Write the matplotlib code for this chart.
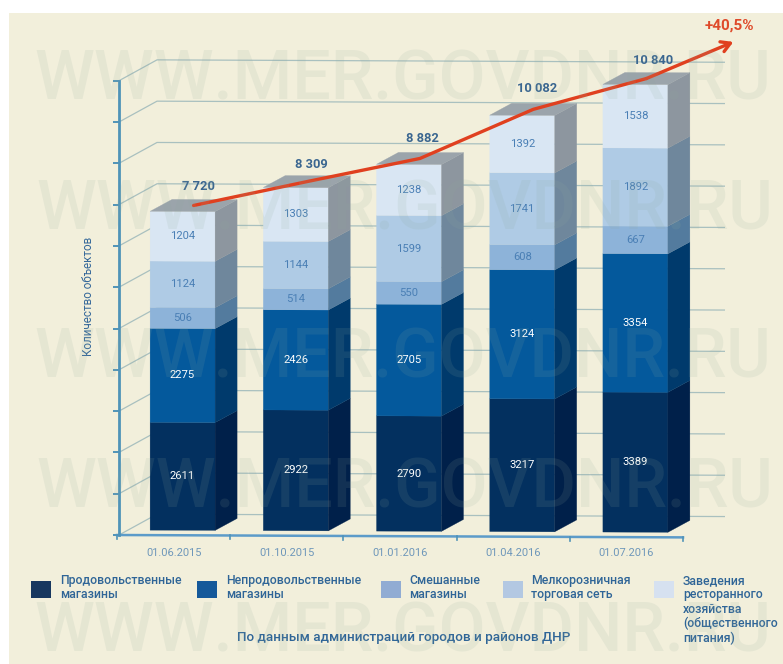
import matplotlib
matplotlib.use("Agg")
import matplotlib.pyplot as plt
from matplotlib.patches import Polygon, Rectangle
from matplotlib.transforms import Affine2D

plt.rcParams['font.family'] = ['Roboto', 'DejaVu Sans']

# --- data ---
dates = ['01.06.2015', '01.10.2015', '01.01.2016', '01.04.2016', '01.07.2016']
food = [2611, 2922, 2790, 3217, 3389]
nonfood = [2275, 2426, 2705, 3124, 3354]
mixed = [506, 514, 550, 608, 667]
retail = [1124, 1144, 1599, 1741, 1892]
catering = [1204, 1303, 1238, 1392, 1538]
totals = [7720, 8309, 8882, 10082, 10840]
total_labels = ['7 720', '8 309', '8 882', '10 082', '10 840']
series = [food, nonfood, mixed, retail, catering]
legend_labels = ['Продовольственные\nмагазины', 'Непродовольственные\nмагазины',
                 'Смешанные\nмагазины', 'Мелкорозничная\nторговая сеть',
                 'Заведения\nресторанного\nхозяйства\n(общественного\nпитания)']
y_ticks = list(range(0, 12000, 1000))

# --- styles ---
W, H = 783, 664
BG = '#F2EFDB'
front_colors = ['#03305F', '#04599C', '#8DB3D9', '#AFCBE5', '#D9E6F3']
side_colors = ['#00204A', '#003A6C', '#537B9E', '#6F879C', '#8D969F']
top_color = '#9BA4AB'
legend_colors = ['#17375F', '#15599A', '#91ACD3', '#B3C8E2', '#D6E1F0']
text_blue = '#2F6597'
label_blue = '#4A7FB5'
grid_color = '#A9C0BF'
axis_color = '#4F93B8'
red = '#E0401F'

# pixel geometry of the plot frame
x_left, x_right = 117, 683
y_base, y_top = 535, 80.7
px_x = (x_right - x_left) / 5      # pixels per category
px_y = (y_base - y_top) / 11000    # pixels per object
sx = lambda p: p / px_x            # pixels -> x data units
sy = lambda p: p / px_y            # pixels -> y data units

fig = plt.figure(figsize=(W / 100, H / 100), dpi=100, facecolor='white')
fig.patches.append(Rectangle((9 / W, 0), (W - 9) / W, (H - 13) / H, transform=fig.transFigure,
                             facecolor=BG, edgecolor='none', zorder=-5))

ax = fig.add_axes([x_left / W, 1 - y_base / H, (x_right - x_left) / W, (y_base - y_top) / H])
ax.patch.set_visible(False)
ax.set_xlim(-0.5, 4.5)
ax.set_ylim(0, 11000)

# the whole drawing leans slightly downwards to the right
lean = 0.0042
T = ax.transData + Affine2D.from_values(1, -lean, 0, 1, 0, lean * x_left)


def poly(points, color, z):
    ax.add_patch(Polygon(points, closed=True, facecolor=color, edgecolor=color, linewidth=0.2,
                         transform=T, clip_on=False, zorder=z))


# back wall grid with its diagonal floor/wall edge
wall_dx, wall_dy = sx(40), sy(21)
wall_end = -0.5 + sx(725 - x_left)
for v in y_ticks:
    ax.plot([-0.5 + sx(2), -0.5 + wall_dx, wall_end], [v, v + wall_dy, v + wall_dy], color=grid_color,
            lw=0.9, transform=T, clip_on=False, zorder=1, solid_capstyle='butt')

# axes lines and tick marks
ax.set_xticks(range(5))
ax.set_xticklabels(dates, fontsize=7.9, color='#6E97BA')
ax.set_yticks(y_ticks)
ax.set_yticklabels([])
ax.tick_params(axis='x', length=0, pad=9)
ax.tick_params(axis='y', length=4, width=1.4, color=axis_color)
for name in ['top', 'right', 'bottom']:
    ax.spines[name].set_visible(False)
ax.spines['left'].set_position(('outward', -1.4))
ax.spines['left'].set_color(axis_color)
ax.spines['left'].set_linewidth(2)
ax.plot([-0.5, 4.5], [0, 0], color='#5C9BC9', lw=1.8, transform=T, clip_on=False, zorder=2)
for b in [i - 0.5 for i in range(6)]:
    ax.plot([b, b], [0, -sy(4)], color=axis_color, lw=1.2, transform=T, clip_on=False, zorder=2)

ax.set_ylabel('Количество объектов', fontsize=8.4, color='#35689A', labelpad=10, y=0.525)

# stacked 3D columns
off_x, off_y = sx(9), sy(5)        # columns stand a little back on the floor
bw = sx(65)
dx, dy = sx(22), sy(12)
margin = (px_x - 65) / 2 / px_x
for i in range(5):
    left = i - 0.5 + margin + off_x
    right = left + bw
    base = off_y
    for k, values in enumerate(series):
        v = values[i]
        top = base + v
        poly([(left, base), (right, base), (right, top), (left, top)], front_colors[k], 5 + i)
        poly([(right, base), (right + dx, base + dy), (right + dx, top + dy), (right, top)],
             side_colors[k], 5 + i)
        ax.text((left + right) / 2, (base + top) / 2, str(v), ha='center', va='center', fontsize=8.1,
                color='white' if k < 2 else label_blue, transform=T, zorder=30)
        base = top
    poly([(left, base), (right, base), (right + dx, base + dy), (left + dx, base + dy)], top_color, 5 + i)

# growth line through the centre of each column top
knots_x = [i - 0.5 + margin + off_x + bw / 2 + dx / 2 for i in range(5)]
knots_y = [t + off_y + dy / 2 for t in totals]
ax.plot(knots_x, knots_y, color=red, lw=2.4, transform=T, clip_on=False, zorder=12, solid_capstyle='round')
arrow_tip = (knots_x[-1] + sx(87), knots_y[-1] + sy(37))
ax.annotate('', xy=arrow_tip, xytext=(knots_x[-1], knots_y[-1]), xycoords=T, textcoords=T, zorder=12,
            arrowprops=dict(arrowstyle='->,head_length=0.65,head_width=0.38', color=red, lw=2.4,
                            shrinkA=0, shrinkB=0))

overlay = fig.add_axes([0, 0, 1, 1])
overlay.set_xlim(0, W)
overlay.set_ylim(H, 0)
overlay.axis('off')

# totals above columns
total_pos = [(198, 186), (311, 164), (422, 138), (537, 89), (653, 60)]
for (x, y), s in zip(total_pos, total_labels):
    overlay.text(x, y, s, ha='center', va='center', fontsize=9.3, fontweight='bold', color='#3A6690')
overlay.text(729, 26, '+40,5%', ha='center', va='center', fontsize=11, fontweight='bold', color='#DF4A2A')

# legend
sw_x = [31, 197, 381, 503, 654]
tx_x = [60, 226, 409, 531, 683]
for k in range(5):
    overlay.add_patch(Rectangle((sw_x[k], 581), 20, 17, facecolor=legend_colors[k], edgecolor='none'))
    overlay.text(tx_x[k], 574, legend_labels[k], ha='left', va='top', fontsize=8.8, fontweight='medium',
                 color=text_blue, linespacing=1.14)
overlay.text(404, 637, 'По данным администраций городов и районов ДНР', ha='center', va='center',
             fontsize=9.7, fontweight='medium', color=text_blue)

# site mark repeated across the sheet
for x, y in [(403, 80), (405, 210), (403, 358), (405, 488), (403, 632)]:
    overlay.text(x, y, 'WWW.MER.GOVDNR.RU', ha='center', va='center', fontsize=49, fontweight='medium',
                 color='#8FAA9C', alpha=0.13, zorder=20)

fig.savefig('out.png', dpi=100, facecolor='white')
